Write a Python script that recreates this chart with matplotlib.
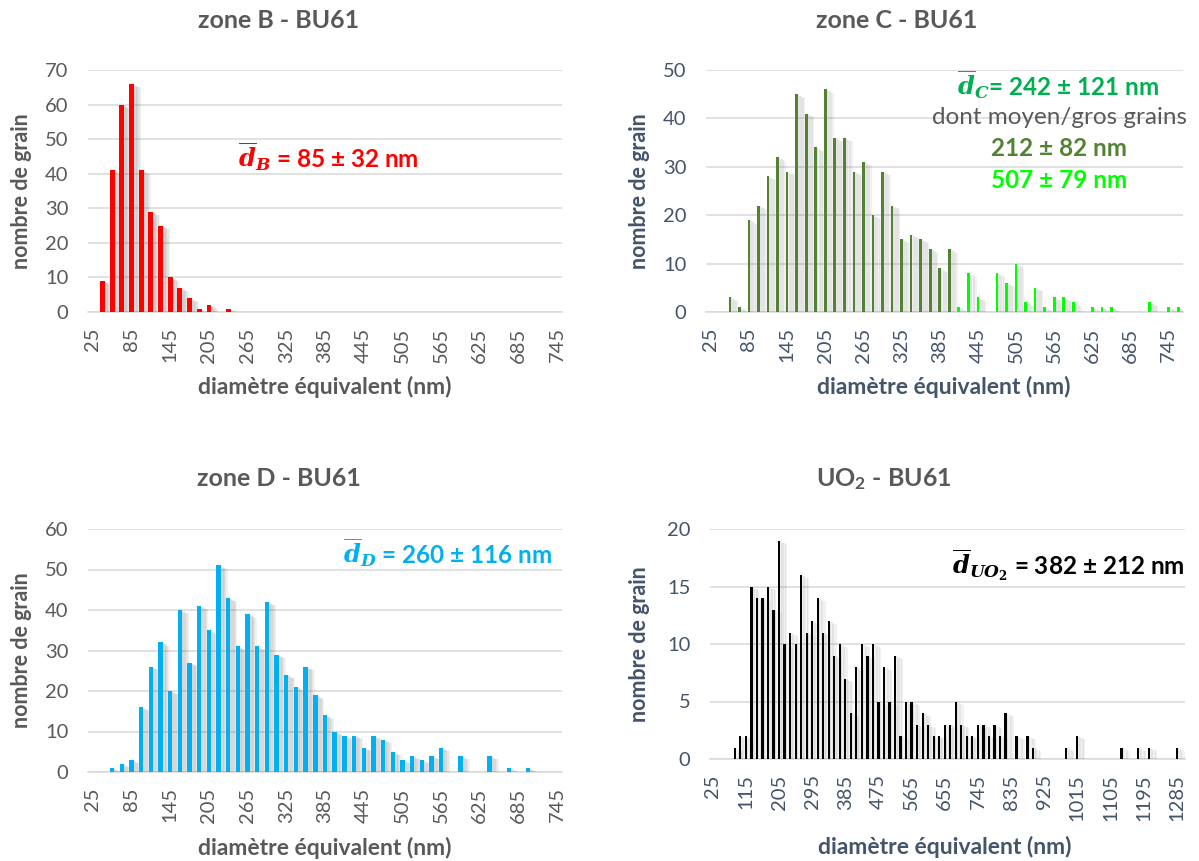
import matplotlib.pyplot as plt
import matplotlib.patheffects as pe

plt.rcParams['font.family'] = ['Lato', 'DejaVu Sans']
plt.rcParams['mathtext.fontset'] = 'custom'
plt.rcParams['mathtext.it'] = 'DejaVu Serif:bold:italic'
plt.rcParams['mathtext.rm'] = 'DejaVu Serif:bold'

# classes de diamètre équivalent (nm), pas de 15 nm
diam_b = list(range(25, 746, 15))
diam_c = list(range(25, 761, 15))
diam_d = list(range(25, 746, 15))
diam_uo2 = list(range(25, 1301, 15))

# nombre de grains par classe
grains_b = [0, 9, 41, 60, 66, 41, 29, 25, 10, 7,
            4, 1, 2, 0, 1, 0, 0, 0, 0, 0,
            0, 0, 0, 0, 0, 0, 0, 0, 0, 0,
            0, 0, 0, 0, 0, 0, 0, 0, 0, 0,
            0, 0, 0, 0, 0, 0, 0, 0, 0]

# zone C : petits/moyens grains (vert foncé) et gros grains (vert clair)
grains_c_moyen = [0, 0, 3, 1, 19, 22, 28, 32, 29, 45,
                  41, 34, 46, 36, 36, 29, 31, 20, 29, 22,
                  15, 16, 15, 13, 9, 13, 0, 0, 0, 0,
                  0, 0, 0, 0, 0, 0, 0, 0, 0, 0,
                  0, 0, 0, 0, 0, 0, 0, 0, 0, 0]
grains_c_gros = [0, 0, 0, 0, 0, 0, 0, 0, 0, 0,
                 0, 0, 0, 0, 0, 0, 0, 0, 0, 0,
                 0, 0, 0, 0, 0, 0, 1, 8, 3, 0,
                 8, 6, 10, 2, 5, 1, 3, 3, 2, 0,
                 1, 1, 1, 0, 0, 0, 2, 0, 1, 1]

grains_d = [0, 0, 1, 2, 3, 16, 26, 32, 20, 40,
            27, 41, 35, 51, 43, 31, 39, 31, 42, 29,
            24, 21, 26, 19, 14, 10, 9, 9, 6, 9,
            8, 5, 3, 4, 3, 4, 6, 0, 4, 0,
            0, 4, 0, 1, 0, 1, 0, 0, 0]

grains_uo2 = [0, 0, 0, 0, 1, 2, 2, 15, 14, 14,
              15, 13, 19, 10, 11, 10, 16, 11, 12, 14,
              11, 12, 9, 10, 7, 4, 8, 10, 9, 10,
              5, 8, 5, 9, 2, 5, 5, 3, 4, 3,
              2, 2, 3, 3, 5, 3, 2, 2, 3, 3,
              2, 3, 2, 4, 0, 2, 0, 2, 1, 0,
              0, 0, 0, 0, 1, 0, 2, 0, 0, 0,
              0, 0, 0, 0, 1, 0, 0, 1, 0, 1,
              0, 0, 0, 0, 1, 0]

W, H = 1199, 861
fig = plt.figure(figsize=(W / 100, H / 100), dpi=100)

GRIS = '#595959'
BLEU_GRIS = '#44546A'


def px(x0, y0, x1, y1):
    # rectangle en pixels (origine en haut à gauche) -> coordonnées figure
    return [x0 / W, 1 - y1 / H, (x1 - x0) / W, (y1 - y0) / H]


def ombre():
    # ombre portée douce à droite des barres
    effets = []
    for k in (1.0, 2.0, 3.0, 4.0, 5.0):
        effets.append(pe.SimplePatchShadow(offset=(k, -0.5 * k), shadow_rgbFace='0.3', alpha=0.08))
    effets.append(pe.Normal())
    return effets


def histo(rect, diam, series, ymax, ystep, pas_lab, coul_txt):
    ax = fig.add_axes(px(*rect))
    x = list(range(len(diam)))
    for vals, coul, larg in series:
        bars = ax.bar(x, vals, width=larg, color=coul, zorder=3)
        for b in bars:
            b.set_path_effects(ombre())
    ax.set_xlim(-0.5, len(diam) - 0.5)
    ax.set_ylim(0, ymax)
    ax.set_yticks(range(0, ymax + 1, ystep))
    ax.set_xticks(x[::pas_lab])
    ax.set_xticklabels([str(d) for d in diam[::pas_lab]], rotation=90)
    ax.tick_params(length=0, labelsize=14.5, labelcolor=coul_txt, pad=11)
    ax.tick_params(axis='y', pad=14)
    ax.grid(axis='y', color='#D9D9D9', linewidth=1.1, zorder=0)
    ax.set_axisbelow(True)
    for s in ('top', 'right', 'left'):
        ax.spines[s].set_visible(False)
    ax.spines['bottom'].set_color('#D9D9D9')
    ax.spines['bottom'].set_linewidth(1.1)
    return ax


histo((88, 70, 562, 312), diam_b, [(grains_b, '#FF0000', 0.5)], 70, 10, 4, GRIS)
histo((706, 70, 1183, 312), diam_c,
      [(grains_c_moyen, '#548235', 0.28), (grains_c_gros, '#00FF00', 0.28)], 50, 10, 4, BLEU_GRIS)
histo((88, 529, 562, 772), diam_d, [(grains_d, '#00B0F0', 0.45)], 60, 10, 4, GRIS)
histo((710, 529, 1185, 759), diam_uo2, [(grains_uo2, '#000000', 0.4)], 20, 5, 6, BLEU_GRIS)


def ftxt(x, y, s, **kw):
    fig.text(x / W, 1 - y / H, s, **kw)


# titres
TT = dict(ha='center', va='center', fontsize=18, fontweight='bold', color=GRIS)
ftxt(279, 20, 'zone B - BU61', **TT)
ftxt(897, 20, 'zone C - BU61', **TT)
ftxt(279, 479, 'zone D - BU61', **TT)
ftxt(884, 479, 'UO$_\\mathregular{2}$ - BU61', **TT)

# titres des axes
for xc, yc, c in ((22, 191, GRIS), (640, 191, BLEU_GRIS), (22, 650, GRIS), (640, 644, BLEU_GRIS)):
    ftxt(xc, yc, 'nombre de grain', ha='center', va='center', rotation=90,
         fontsize=15.5, fontweight='bold', color=c)
for xc, yc, c in ((325, 387, GRIS), (944, 387, BLEU_GRIS), (325, 848, GRIS), (945, 847, BLEU_GRIS)):
    ftxt(xc, yc, 'diamètre équivalent (nm)', ha='center', va='center',
         fontsize=16.5, fontweight='bold', color=c)

# diamètres moyens
ftxt(238, 157, '$\\overline{d}_B$ = 85 ± 32 nm', ha='left', va='center',
     fontsize=17.5, fontweight='bold', color='#FF0000')
ftxt(1058, 85, '$\\overline{d}_C$= 242 ± 121 nm', ha='center', va='center',
     fontsize=17.5, fontweight='bold', color='#00B050')
ftxt(1059, 117, 'dont moyen/gros grains', ha='center', va='center', fontsize=17.5, color=GRIS)
ftxt(1059, 149, '212 ± 82 nm', ha='center', va='center', fontsize=17.5, fontweight='bold', color='#548235')
ftxt(1059, 181, '507 ± 79 nm', ha='center', va='center', fontsize=17.5, fontweight='bold', color='#00FF00')
ftxt(552, 553, '$\\overline{d}_D$ = 260 ± 116 nm', ha='right', va='center',
     fontsize=17.5, fontweight='bold', color='#00B0F0')
ftxt(1185, 565, '$\\overline{d}_{UO_2}$ = 382 ± 212 nm', ha='right', va='center',
     fontsize=17.5, fontweight='bold', color='#000000')

fig.savefig('out.png', dpi=100)
